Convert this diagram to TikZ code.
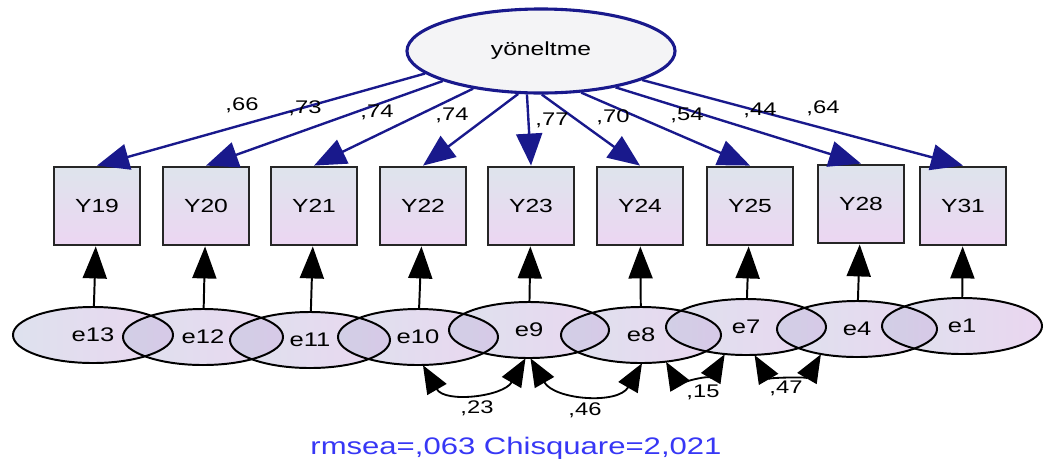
\documentclass[tikz,border=0pt]{standalone}
\usepackage{fontspec}
\setmainfont{Liberation Sans}[FakeStretch=1.3]
\usepackage{xcolor}
\usepackage{tikz}
\usetikzlibrary{arrows.meta,shapes.geometric}
\definecolor{latentline}{RGB}{25,25,140}
\definecolor{latentfill}{RGB}{244,244,246}
\definecolor{boxtop}{RGB}{222,228,236}
\definecolor{boxbot}{RGB}{236,214,242}
\definecolor{errleft}{RGB}{189,197,221}
\definecolor{errright}{RGB}{213,173,225}
\definecolor{fitblue}{RGB}{55,55,245}

\begin{document}
\begin{tikzpicture}[x=0.025cm, y=-0.025cm,
  latent/.style={ellipse, draw=latentline, line width=2.2pt, fill=latentfill,
    minimum width=6.7cm, minimum height=2.1cm, inner sep=0pt,
    font=\fontsize{13.5}{15}\selectfont},
  obs/.style={rectangle, draw=black!85, line width=2pt, top color=boxtop,
    bottom color=boxbot, minimum width=2.15cm, minimum height=1.95cm,
    inner sep=0pt, font=\fontsize{13.5}{15}\selectfont},
  err/.style={ellipse, left color=errleft, right color=errright,
    fill opacity=0.5, text opacity=1, minimum width=4cm, minimum height=1.4cm,
    inner sep=0pt, font=\fontsize{14}{16}\selectfont},
  errline/.style={draw=black, line width=1.4pt},
  load/.style={draw=latentline, line width=1.7pt,
    -{Triangle[length=0.8cm,width=0.65cm]}},
  res/.style={draw=black, line width=1.4pt,
    -{Triangle[length=0.8cm,width=0.6cm]}},
  cov/.style={draw=black, line width=1.3pt,
    {Triangle[length=0.7cm,width=0.55cm]}-{Triangle[length=0.7cm,width=0.55cm]}},
  est/.style={font=\fontsize{13}{15}\selectfont, inner sep=1pt}]
  \useasboundingbox (0,0) rectangle (1044,469);

  % latent
  \node[latent] (top) at (541,51) {yöneltme};

  % observed
  \node[obs] (Y19) at (97,206)  {Y19};
  \node[obs] (Y20) at (206,206) {Y20};
  \node[obs] (Y21) at (314,206) {Y21};
  \node[obs] (Y22) at (423,206) {Y22};
  \node[obs] (Y23) at (531,206) {Y23};
  \node[obs] (Y24) at (640,206) {Y24};
  \node[obs] (Y25) at (750,206) {Y25};
  \node[obs] (Y28) at (861,204) {Y28};
  \node[obs] (Y31) at (963,206) {Y31};

  % errors (fill first, outlines after)
  \node[err] (e13) at (93,335)  {e13};
  \node[err] (e12) at (203,337) {e12};
  \node[err] (e11) at (310,340) {e11};
  \node[err] (e10) at (418,337) {e10};
  \node[err] (e9)  at (529,330) {e9};
  \node[err] (e8)  at (641,335) {e8};
  \node[err] (e7)  at (746,327) {e7};
  \node[err] (e4)  at (857,329) {e4};
  \node[err] (e1)  at (962,326) {e1};

  \draw[errline] (e13) ellipse [x radius=2cm, y radius=0.7cm];
  \draw[errline] (e12) ellipse [x radius=2cm, y radius=0.7cm];
  \draw[errline] (e11) ellipse [x radius=2cm, y radius=0.7cm];
  \draw[errline] (e10) ellipse [x radius=2cm, y radius=0.7cm];
  \draw[errline] (e9)  ellipse [x radius=2cm, y radius=0.7cm];
  \draw[errline] (e8)  ellipse [x radius=2cm, y radius=0.7cm];
  \draw[errline] (e7)  ellipse [x radius=2cm, y radius=0.7cm];
  \draw[errline] (e4)  ellipse [x radius=2cm, y radius=0.7cm];
  \draw[errline] (e1)  ellipse [x radius=2cm, y radius=0.7cm];

  % loadings
  \draw[load] (top.191) -- (Y19.north);
  \draw[load] (top.197) -- (Y20.north);
  \draw[load] (top.209) -- (Y21.north);
  \draw[load] (top.242) -- (Y22.north);
  \draw[load] (top.252) -- (Y23.north);
  \draw[load] (top.271) -- (Y24.north);
  \draw[load] (top.314) -- (Y25.north);
  \draw[load] (top.334) -- (Y28.north);
  \draw[load] (top.344) -- (Y31.north);

  \node[est] (l19) at (242,105) {,66};
  \node[est] (l20) at (305,108) {,73};
  \node[est] (l21) at (377,112) {,74};
  \node[est] (l22) at (452,115) {,74};
  \node[est] (l23) at (552,120) {,77};
  \node[est] (l24) at (613,117) {,70};
  \node[est] (l25) at (687,115) {,54};
  \node[est] (l28) at (760,110) {,44};
  \node[est] (l31) at (823,108) {,64};

  % residuals
  \draw[res] (e13) -- (Y19);
  \draw[res] (e12) -- (Y20);
  \draw[res] (e11) -- (Y21);
  \draw[res] (e10) -- (Y22);
  \draw[res] (e9)  -- (Y23);
  \draw[res] (e8)  -- (Y24);
  \draw[res] (e7)  -- (Y25);
  \draw[res] (e4)  -- (Y28);
  \draw[res] (e1)  -- (Y31);

  % covariances
  \draw[cov] (e10.280) to[out=-60, in=-120, looseness=1.1] (e9.263);
  \draw[cov] (e9.273)  to[out=-60, in=-120, looseness=1.1] (e8.272);
  \draw[cov] (e8.313)  to[out=-60, in=-120] (e7.232);
  \draw[cov] (e7.287)  to[out=-60, in=-120] (e4.215);

  \node[est] (c1) at (477,408) {,23};
  \node[est] (c2) at (585,410) {,46};
  \node[est] (c3) at (703,392) {,15};
  \node[est] (c4) at (786,388) {,47};

  % fit
  \node[font=\fontsize{17}{19}\selectfont, text=fitblue] (fit) at (516,448)
    {rmsea=,063 Chisquare=2,021};

\end{tikzpicture}
\end{document}
